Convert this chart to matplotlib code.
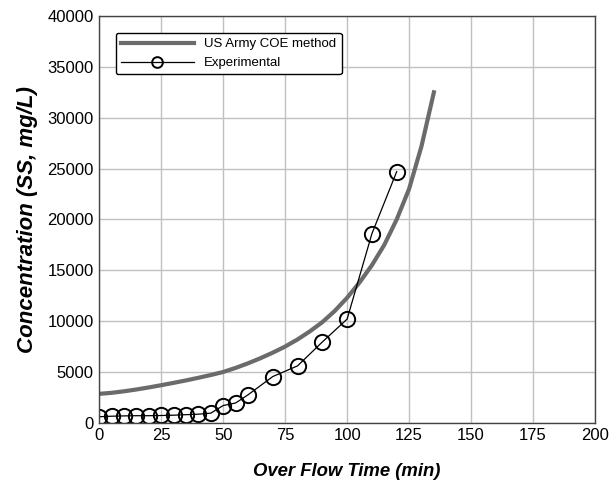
import matplotlib
matplotlib.use('Agg')
import matplotlib.pyplot as plt

plt.rcParams['font.family'] = ['Liberation Sans', 'DejaVu Sans']

# US Army COE method curve
coe_time = [0, 5, 10, 15, 20, 25, 30, 35, 40, 45, 50, 55, 60, 65, 70,
            75, 80, 85, 90, 95, 100, 105, 110, 115, 120, 125, 130, 135]
coe_conc = [2850, 2950, 3100, 3280, 3480, 3700, 3930, 4170, 4430, 4700,
            5000, 5400, 5850, 6350, 6900, 7500, 8200, 9000, 9900, 11000,
            12300, 13800, 15500, 17500, 20000, 23000, 27200, 32500]

# experimental points
exp_time = [0, 5, 10, 15, 20, 25, 30, 35, 40, 45, 50, 55, 60, 70, 80, 90,
            100, 110, 120]
exp_conc = [600, 650, 680, 700, 700, 720, 750, 800, 850, 950, 1700, 1950,
            2750, 4550, 5600, 7950, 10200, 18600, 24700]

fig = plt.figure(figsize=(6.09, 4.86), dpi=100)
ax = fig.add_axes([0.163, 0.130, 0.814, 0.837])

ax.plot(coe_time, coe_conc, color='#6b6b6b', lw=3, label='US Army COE method')
ax.plot(exp_time, exp_conc, color='black', lw=0.9, marker='o', ms=11,
        mfc='none', mec='black', mew=1.4, label='Experimental')

ax.set_xlim(0, 200)
ax.set_ylim(0, 40000)
ax.set_xticks(range(0, 201, 25))
ax.set_yticks(range(0, 40001, 5000))
ax.grid(True, color='#c0c0c0', lw=1)
ax.set_axisbelow(True)
ax.tick_params(length=0, labelsize=12, pad=4)
for s in ax.spines.values():
    s.set_color('#444444')
    s.set_linewidth(1)

ax.set_xlabel('Over Flow Time (min)', fontsize=13.3, fontweight='bold',
              style='italic', labelpad=14)
ax.set_ylabel('Concentration (SS, mg/L)', fontsize=16, fontweight='bold',
              style='italic', labelpad=7)

leg = ax.legend(loc='upper left', bbox_to_anchor=(0.02, 0.975), fontsize=9.5,
                handlelength=5.5, markerscale=0.7, frameon=True, fancybox=True,
                edgecolor='black', framealpha=1, borderpad=0.4)
leg.get_frame().set_linewidth(1)

fig.savefig('out.png', dpi=100)
